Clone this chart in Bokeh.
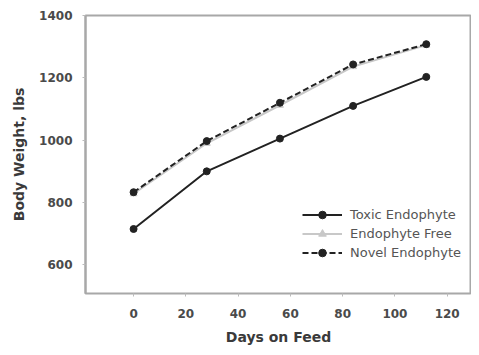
from bokeh.plotting import figure
from bokeh.models import FixedTicker, Legend, LegendItem
from bokeh.embed import file_html
from bokeh.resources import INLINE

days = [0, 28, 56, 84, 112]
toxic = [715, 900, 1005, 1110, 1203]
free = [828, 990, 1112, 1236, 1305]
novel = [833, 997, 1120, 1243, 1308]
x_ticks = [0, 20, 40, 60, 80, 100, 120]
y_ticks = [600, 800, 1000, 1200, 1400]

FONT = "DejaVu Sans"
p = figure(width=471, height=347, output_backend="svg", toolbar_location=None,
           x_range=(-18.4, 129.3), y_range=(508, 1400),
           min_border_left=85, min_border_top=15, min_border_bottom=54, min_border_right=0)
p.grid.visible = False
p.outline_line_color = "#a8a8a8"
p.outline_line_width = 2
p.background_fill_color = "white"
p.border_fill_color = "white"

p.xaxis.ticker = FixedTicker(ticks=x_ticks)
p.yaxis.ticker = FixedTicker(ticks=y_ticks)
for ax in (p.xaxis[0], p.yaxis[0]):
    ax.axis_line_color = "#a8a8a8"
    ax.axis_line_width = 2
    ax.major_tick_line_color = "#bbbbbb"
    ax.major_tick_in = 0
    ax.major_tick_out = 3
    ax.minor_tick_line_color = None
    ax.major_label_text_font = FONT
    ax.major_label_text_font_style = "bold"
    ax.major_label_text_font_size = "12px"
    ax.major_label_text_color = "#4a4a4a"
    ax.axis_label_text_font = FONT
    ax.axis_label_text_font_style = "bold"
    ax.axis_label_text_font_size = "14px"
    ax.axis_label_text_color = "#3a3a3a"
p.xaxis.axis_line_color = None
p.xaxis.major_label_standoff = 12
p.xaxis.axis_label = "Days on Feed"
p.xaxis.axis_label_standoff = 8
p.yaxis.major_label_standoff = 10
p.yaxis.axis_label = "Body Weight, lbs"
p.yaxis.axis_label_standoff = 9

l_free = p.line(days, free, line_color="#c8c8c8", line_width=2)
m_free = p.scatter(days, free, marker="triangle", size=7, fill_color="#c8c8c8", line_color="#c8c8c8")
l_toxic = p.line(days, toxic, line_color="#222222", line_width=2)
m_toxic = p.scatter(days, toxic, marker="circle", size=7, fill_color="#222222", line_color="#222222")
l_novel = p.line(days, novel, line_color="#222222", line_width=2, line_dash="6 3")
m_novel = p.scatter(days, novel, marker="circle", size=7, fill_color="#222222", line_color="#222222")

legend = Legend(items=[
    LegendItem(label="Toxic Endophyte", renderers=[l_toxic, m_toxic]),
    LegendItem(label="Endophyte Free", renderers=[l_free, m_free]),
    LegendItem(label="Novel Endophyte", renderers=[l_novel, m_novel]),
], location=(217, 31))
legend.border_line_color = None
legend.background_fill_alpha = 0
legend.label_text_font = FONT
legend.label_text_font_size = "13px"
legend.label_text_color = "#555555"
legend.glyph_width = 40
legend.glyph_height = 19
legend.label_height = 19
legend.label_standoff = 8
legend.spacing = 0
legend.padding = 0
legend.margin = 0
p.add_layout(legend)

open("out.html", "w").write(file_html(p, INLINE))
